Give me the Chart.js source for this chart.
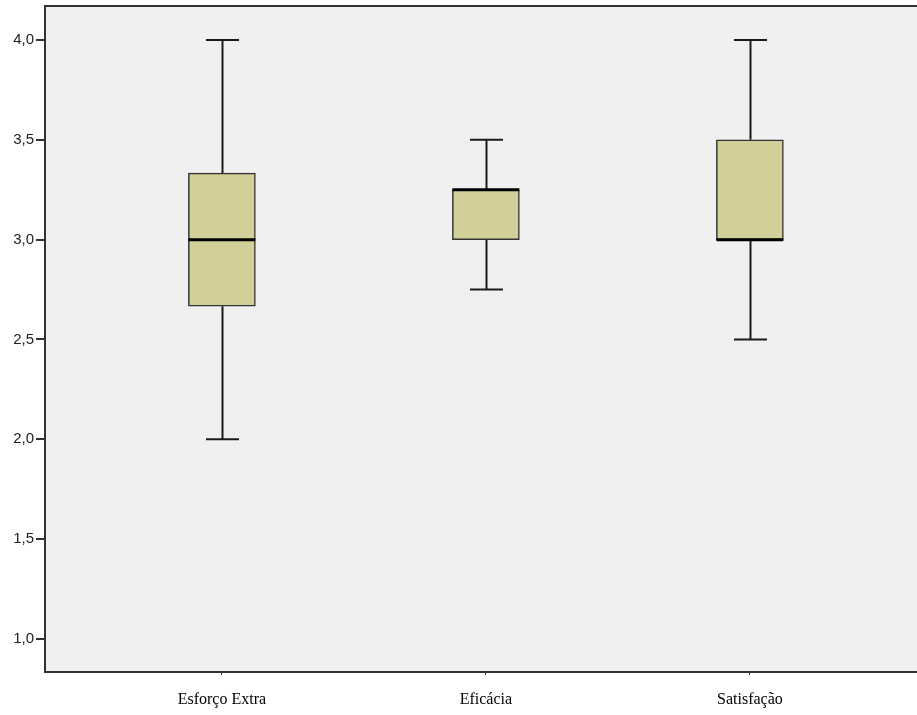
<!DOCTYPE html>
<html>
<head>
<meta charset="utf-8">
<script src="https://cdn.jsdelivr.net/npm/chart.js@4.4.1/dist/chart.umd.min.js"></script>
<style>
  html, body { margin: 0; padding: 0; background: #fff; overflow: hidden; }
  #wrap { width: 917px; height: 715px; }
</style>
</head>
<body>
<div id="wrap"><canvas id="grafica"></canvas></div>
<script>
  // categorias e estatísticas de cada caixa
  const categorias = ['Esforço Extra', 'Eficácia', 'Satisfação'];
  const minimos   = [2.0, 2.75, 2.5];
  const quartil1  = [2.667, 3.0, 3.0];
  const medianas  = [3.0, 3.25, 3.0];
  const quartil3  = [3.333, 3.25, 3.5];
  const maximos   = [4.0, 3.5, 4.0];
  const ticksY    = [1.0, 1.5, 2.0, 2.5, 3.0, 3.5, 4.0];

  const caixas = categorias.map((c, i) => ({ x: i + 1, y: [quartil1[i], quartil3[i]] }));

  // fundo da área, moldura, bigodes e medianas
  const boxplotPlugin = {
    id: 'boxplot',
    beforeDraw(chart) {
      const { ctx, chartArea: a } = chart;
      ctx.save();
      ctx.fillStyle = '#f0f0f0';
      ctx.fillRect(a.left, a.top, a.right - a.left, a.bottom - a.top);
      ctx.restore();
    },
    beforeDatasetsDraw(chart) {
      const { ctx, scales } = chart;
      const xs = scales.x, ys = scales.y;
      ctx.save();
      ctx.strokeStyle = '#1a1a1a';
      ctx.lineWidth = 2;
      categorias.forEach((c, i) => {
        const x = Math.round(xs.getPixelForValue(i + 1)) + 0.5;
        const yMin = ys.getPixelForValue(minimos[i]);
        const yMax = ys.getPixelForValue(maximos[i]);
        const yQ1 = ys.getPixelForValue(quartil1[i]);
        const yQ3 = ys.getPixelForValue(quartil3[i]);
        ctx.beginPath();
        ctx.moveTo(x, yQ3); ctx.lineTo(x, yMax);
        ctx.moveTo(x, yQ1); ctx.lineTo(x, yMin);
        ctx.moveTo(x - 16.5, yMax); ctx.lineTo(x + 16.5, yMax);
        ctx.moveTo(x - 16.5, yMin); ctx.lineTo(x + 16.5, yMin);
        ctx.stroke();
      });
      ctx.restore();
    },
    afterDatasetsDraw(chart) {
      const { ctx, scales, chartArea: a } = chart;
      const xs = scales.x, ys = scales.y;
      ctx.save();
      ctx.strokeStyle = '#000';
      ctx.lineWidth = 3;
      categorias.forEach((c, i) => {
        const x = xs.getPixelForValue(i + 1);
        const y = ys.getPixelForValue(medianas[i]);
        ctx.beginPath();
        ctx.moveTo(x - 33.5, y); ctx.lineTo(x + 33.5, y);
        ctx.stroke();
      });
      // borda superior
      ctx.strokeStyle = '#333';
      ctx.lineWidth = 2;
      ctx.beginPath();
      ctx.moveTo(a.left, a.top); ctx.lineTo(a.right, a.top);
      ctx.stroke();
      ctx.restore();
    }
  };

  const ctx = document.getElementById('grafica').getContext('2d');
  window.miGrafica = new Chart(ctx, {
    type: 'bar',
    data: {
      datasets: [{
        data: caixas,
        backgroundColor: '#d3cf99',
        borderColor: '#333',
        borderWidth: 1.5,
        borderSkipped: false,
        barThickness: 67
      }]
    },
    plugins: [boxplotPlugin],
    options: {
      responsive: true,
      maintainAspectRatio: false,
      animation: false,
      layout: { padding: { top: 6, right: 0, left: 0, bottom: 0 } },
      plugins: { legend: { display: false }, tooltip: { enabled: false } },
      scales: {
        x: {
          type: 'linear',
          offset: false,
          min: 0.33,
          max: 3.633,
          afterBuildTicks(scale) { scale.ticks = [1, 2, 3].map(v => ({ value: v })); },
          afterFit(scale) { scale.height = 43; },
          grid: { display: true, offset: false, drawOnChartArea: false, drawTicks: true, tickLength: 3, color: '#333' },
          border: { display: true, color: '#333', width: 2 },
          ticks: {
            padding: 15,
            maxRotation: 0,
            color: '#000',
            font: { family: '"Liberation Serif", "Times New Roman", serif', size: 16 },
            callback: v => categorias[v - 1]
          }
        },
        y: {
          min: 0.835,
          max: 4.17,
          afterBuildTicks(scale) { scale.ticks = ticksY.map(v => ({ value: v })); },
          afterFit(scale) { scale.width = 45; scale.paddingTop = 0; scale.paddingBottom = 0; },
          grid: { display: true, drawOnChartArea: false, drawTicks: true, tickLength: 9, color: '#333', lineWidth: 2 },
          border: { display: true, color: '#333', width: 2 },
          ticks: {
            padding: 2,
            color: '#222',
            font: { family: '"Liberation Sans", Arial, sans-serif', size: 15 },
            callback: v => v.toFixed(1).replace('.', ',')
          }
        }
      }
    }
  });
</script>
</body>
</html>
